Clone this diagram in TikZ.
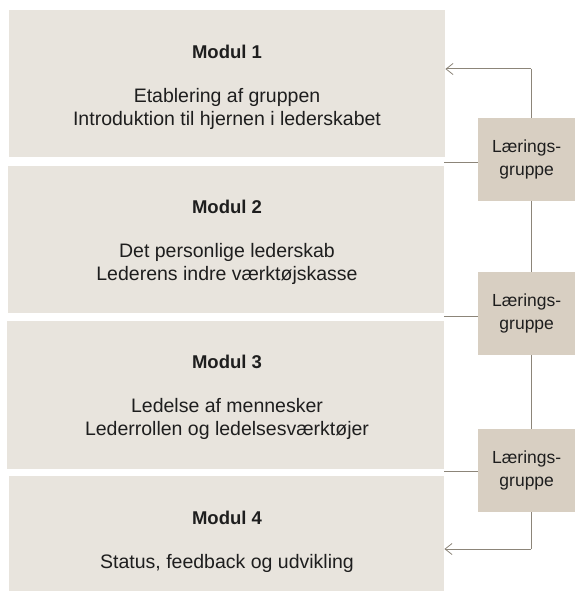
\documentclass[tikz,border=0pt]{standalone}
\usepackage{fontspec}
\setmainfont{Liberation Sans}
\usetikzlibrary{arrows.meta,backgrounds}
\definecolor{modfill}{HTML}{E8E4DD}
\definecolor{grpfill}{HTML}{D8CFC2}
\definecolor{linec}{HTML}{8C8579}
\definecolor{txt}{HTML}{1E1E1E}
\tikzset{
  modbox/.style={fill=modfill, draw=none, inner sep=0pt, anchor=north west},
  grpbox/.style={fill=grpfill, draw=none, inner sep=0pt, anchor=north west,
    minimum width=97pt, minimum height=83pt, align=center, text=txt,
    font=\fontsize{17.5}{23}\selectfont},
  titletext/.style={anchor=base, inner sep=0pt, text=txt, font=\fontsize{18.5}{23}\selectfont\bfseries},
  bodytext/.style={anchor=base, inner sep=0pt, text=txt, font=\fontsize{19.5}{23}\selectfont},
  conn/.style={draw=linec, line width=1pt},
  arr/.style={conn, -{Straight Barb[length=7pt, width=11pt, line width=0.8pt]}}
}
\begin{document}
\begin{tikzpicture}[x=1pt,y=-1pt]
\useasboundingbox (0,0) rectangle (575,591);
% module boxes
\node[modbox, minimum width=436pt, minimum height=147pt] (m1) at (9,10) {};
\node[modbox, minimum width=436pt, minimum height=147pt] (m2) at (8,166) {};
\node[modbox, minimum width=437pt, minimum height=148pt] (m3) at (7,321) {};
\node[modbox, minimum width=435pt, minimum height=115pt] (m4) at (9,476) {};
% texts
\node[titletext] (t1) at (227,59) {Modul 1};
\node[bodytext] (b1a) at (227,102.5) {Etablering af gruppen};
\node[bodytext] (b1b) at (227,125.5) {Introduktion til hjernen i lederskabet};
\node[titletext] (t2) at (227,213.5) {Modul 2};
\node[bodytext] (b2a) at (227,257) {Det personlige lederskab};
\node[bodytext] (b2b) at (227,280) {Lederens indre værktøjskasse};
\node[titletext] (t3) at (227,368.5) {Modul 3};
\node[bodytext] (b3a) at (227,412) {Ledelse af mennesker};
\node[bodytext] (b3b) at (227,435.5) {Lederrollen og ledelsesværktøjer};
\node[titletext] (t4) at (227,524.5) {Modul 4};
\node[bodytext] (b4a) at (227,568) {Status, feedback og udvikling};
% learning groups
\node[grpbox] (g1) at (478,118) {Lærings-\\gruppe};
\node[grpbox] (g2) at (478,272) {Lærings-\\gruppe};
\node[grpbox] (g3) at (478,429) {Lærings-\\gruppe};
% coordinates
\coordinate (top) at (531,69);
\coordinate (bot) at (531,549);
\coordinate (h1) at (444,162);
\coordinate (h2) at (444,316);
\coordinate (h3) at (444,471.5);
\begin{scope}[on background layer]
\draw[conn] (top) -- (bot);
\draw[conn] (h1) -- (g1.west |- h1);
\draw[conn] (h2) -- (g2.west |- h2);
\draw[conn] (h3) -- (g3.west |- h3);
\end{scope}
\draw[arr] (top) -- (m1.east |- top);
\draw[arr] (bot) -- (m4.east |- bot);
\end{tikzpicture}
\end{document}
